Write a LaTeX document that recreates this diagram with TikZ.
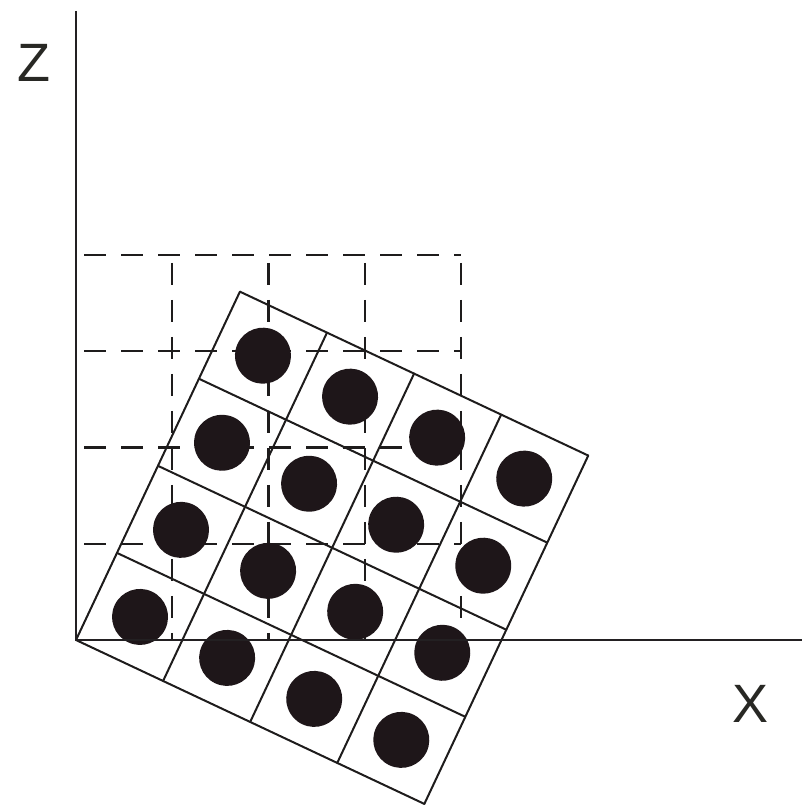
\documentclass[tikz,border=0pt]{standalone}
\usepackage{fontspec}
\setmainfont{Liberation Sans}
\definecolor{axiscol}{RGB}{35,32,34}
\definecolor{linecol}{RGB}{30,28,28}
\definecolor{ballcol}{RGB}{30,22,25}
\definecolor{labcol}{RGB}{40,40,36}
\begin{document}
\begin{tikzpicture}[x=1pt,y=1pt,
  axis/.style={line width=2.6pt, draw=axiscol},
  gridline/.style={line width=2pt, draw=linecol},
  dgrid/.style={line width=2.1pt, draw=linecol, dash pattern=on 22pt off 15pt, dash phase=-8pt},
  ball/.style={fill=ballcol},
  lab/.style={font=\fontsize{54}{60}\selectfont, text=labcol, inner sep=0pt}]
\useasboundingbox (0,0) rectangle (811,806);
\coordinate (O) at (76,166);
\coordinate (zend) at (76,795);
\coordinate (xend) at (802,166);
% dashed (unrotated) grid
\foreach \k in {1,...,4} {
  \draw[dgrid] ({76+96.25*\k},551) -- ({76+96.25*\k},166);
  \draw[dgrid] (76,{166+96.25*\k}) -- (461,{166+96.25*\k});
}
% rotated grid
\begin{scope}[shift={(O)}, rotate=-25.2]
  \foreach \k in {0,...,4} {
    \draw[gridline, line cap=round] ({96.25*\k},0) -- ({96.25*\k},385);
    \draw[gridline, line cap=round] (0,{96.25*\k}) -- (385,{96.25*\k});
  }
  \foreach \i in {0,...,3} {
    \foreach \j in {0,...,3} {
      \fill[ball] ({96.25*(\i+0.5)},{96.25*(\j+0.5)}) circle (28);
    }
  }
\end{scope}
% axes
\draw[axis] (zend) -- (O) -- (xend);
\node[lab] (zlab) at (34,743) {Z};
\node[lab] (xlab) at (750,102) {X};
\end{tikzpicture}
\end{document}
